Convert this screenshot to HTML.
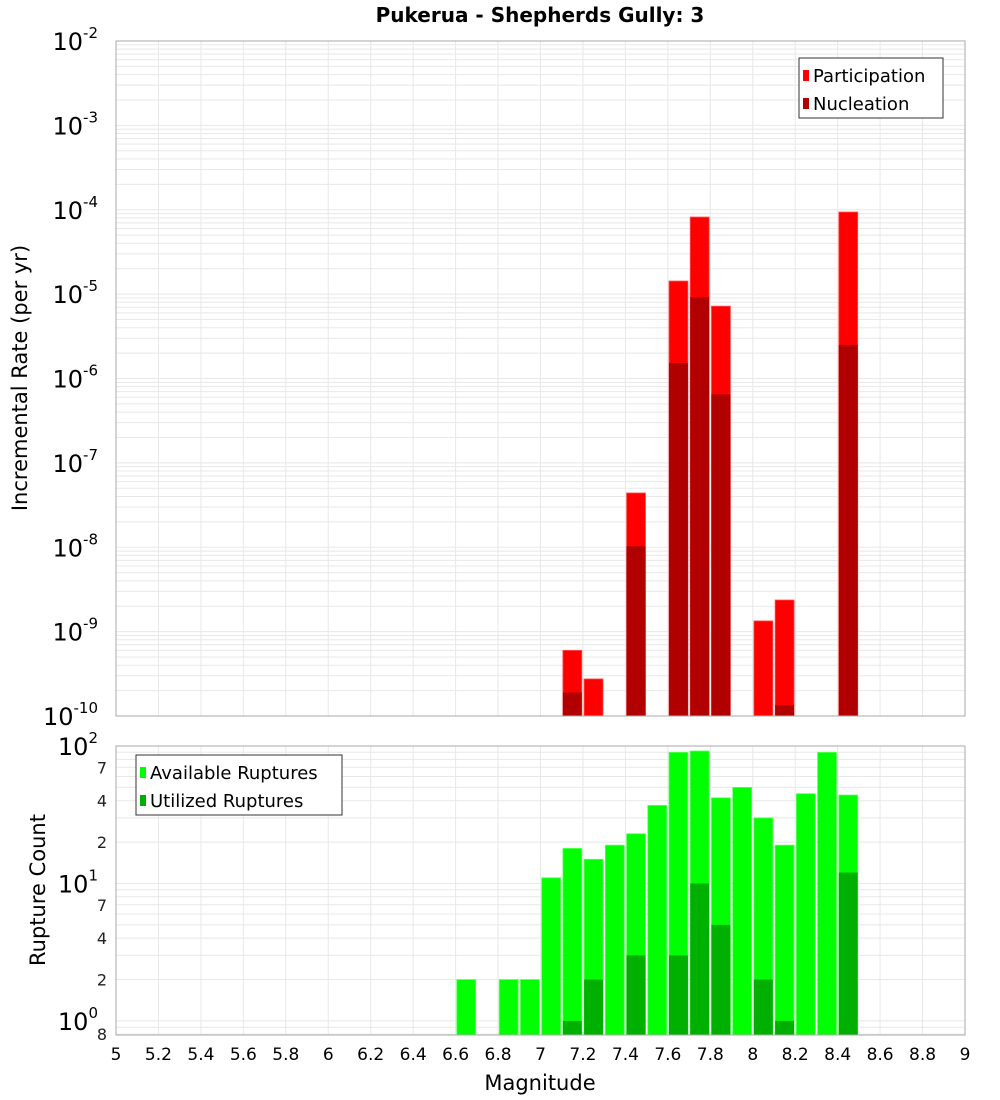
<!DOCTYPE html>
<html><head><meta charset="utf-8"><style>
html,body{margin:0;padding:0;background:#fff;}
svg{display:block;font-family:"DejaVu Sans","Liberation Sans",sans-serif;}
</style></head><body>
<svg id="chart" width="1000" height="1100" viewBox="0 0 1000 1100">
<text x="540" y="22" text-anchor="middle" font-size="20" font-weight="bold">Pukerua - Shepherds Gully: 3</text>
<g id="top"></g>
<g id="bot"></g>
<text x="540" y="1090" text-anchor="middle" font-size="21">Magnitude</text>
<text transform="translate(27,378) rotate(-90)" text-anchor="middle" font-size="21">Incremental Rate (per yr)</text>
<text transform="translate(45,890) rotate(-90)" text-anchor="middle" font-size="21">Rupture Count</text>
</svg>
<script>
const rateMags = [7.15, 7.25, 7.45, 7.65, 7.75, 7.85, 8.05, 8.15, 8.45];
const participation = [6e-10, 2.75e-10, 4.4e-8, 1.43e-5, 8.2e-5, 7.2e-6, 1.34e-9, 2.37e-9, 9.4e-5];
const nucleation = [1.9e-10, 0, 1.03e-8, 1.53e-6, 9.2e-6, 6.5e-7, 0, 1.35e-10, 2.5e-6];
const countMags = [6.65, 6.85, 6.95, 7.05, 7.15, 7.25, 7.35, 7.45, 7.55, 7.65, 7.75, 7.85, 7.95, 8.05, 8.15, 8.25, 8.35, 8.45];
const available = [2, 2, 2, 11, 18, 15, 19, 23, 37, 90, 92, 42, 50, 30, 19, 45, 90, 44];
const utilized = [0, 0, 0, 0, 1, 2, 0, 3, 0, 3, 10, 5, 0, 2, 1, 0, 0, 12];
const xTicks = ["5","5.2","5.4","5.6","5.8","6","6.2","6.4","6.6","6.8","7","7.2","7.4","7.6","7.8","8","8.2","8.4","8.6","8.8","9"];

const NS = "http://www.w3.org/2000/svg";
const svg = document.getElementById('chart');
const L = 116, R = 965;
const xS = m => L + (m - 5) / 4 * (R - L);
const T1 = 41, B1 = 716;
const y1 = v => T1 + (-2 - Math.log10(v)) / 8 * (B1 - T1);
const T2 = 746, B2 = 1035, ymin = Math.log10(0.79);
const y2 = v => T2 + (2 - Math.log10(v)) / (2 - ymin) * (B2 - T2);

function mk(tag, attrs, parent){ const e = document.createElementNS(NS, tag); for (const k in attrs) e.setAttribute(k, attrs[k]); (parent||svg).appendChild(e); return e; }

function gridPanel(g, T, B, lo, hi, yF){
  for (let i = 0; i < xTicks.length; i++){
    const x = xS(parseFloat(xTicks[i]));
    const ln = mk('line', {x1:x, x2:x, y1:T, y2:B, stroke:'#e8e8e8', 'stroke-width':1}, g);
    
    
  }
  for (let d = lo; d < hi; d++){
    for (let k = 1; k <= 9; k++){
      const v = k * Math.pow(10, d);
      const y = yF(v);
      if (y < T || y > B) continue;
      const ln = mk('line', {x1:L, x2:R, y1:y, y2:y, stroke:'#e8e8e8', 'stroke-width':1}, g);
      
      
    }
  }
}
function pow10Label(g, y, exp, name){
  const t = mk('text', {x:105, y:y+9, 'text-anchor':'end', 'font-size':24}, g);
  
  
  t.textContent = '10';
  const s = mk('tspan', {dy:-12, 'font-size':15}, t);
  s.textContent = String(exp);
  t.setAttribute('x', 98);
}

// top panel
const gt = document.getElementById('top');
gridPanel(gt, T1, B1, -10, -2, y1);
for (let e = -10; e <= -2; e++) pow10Label(gt, y1(Math.pow(10, e)), e, 'top-y-tick-label');
const bw = (R - L) / 40 - 2.3;
for (let i = 0; i < rateMags.length; i++){
  const x = xS(rateMags[i]) - bw/2;
  const yp = y1(participation[i]);
  const r = mk('rect', {x:x, y:yp, width:bw, height:B1-yp, fill:'#ff0000', stroke:'#ff5050', 'stroke-width':0.8}, gt);
  
  
  if (nucleation[i] > 0){
    const yn = y1(nucleation[i]);
    const n = mk('rect', {x:x, y:yn, width:bw, height:B1-yn, fill:'#b00000'}, gt);
    
    
  }
}
mk('rect', {x:L, y:T1, width:R-L, height:B1-T1, fill:'none', stroke:'#aaaaaa', 'stroke-width':1}, gt);

// bottom panel
const gb = document.getElementById('bot');
gridPanel(gb, T2, B2, -1, 2, y2);
pow10Label(gb, y2(100), 2, 'bottom-y-tick-label');
pow10Label(gb, y2(10), 1, 'bottom-y-tick-label');
pow10Label(gb, y2(1), 0, 'bottom-y-tick-label');
const minorTicks = [2, 4, 7, 20, 40, 70, 0.8];
for (const v of minorTicks){
  const t = mk('text', {x:107, y:y2(v)+6, 'text-anchor':'end', 'font-size':16, fill:'#222'}, gb);
  
  
  t.textContent = v < 1 ? '8' : String(v % 10 === 0 ? v/10 : v);
}
for (let i = 0; i < countMags.length; i++){
  const x = xS(countMags[i]) - bw/2;
  const ya = y2(available[i]);
  const r = mk('rect', {x:x, y:ya, width:bw, height:B2-ya, fill:'#00ff00', stroke:'#60ff60', 'stroke-width':0.8}, gb);
  
  
  if (utilized[i] > 0){
    const yu = y2(utilized[i]);
    const u = mk('rect', {x:x, y:yu, width:bw, height:B2-yu, fill:'#00b000'}, gb);
    
    
  }
}
mk('rect', {x:L, y:T2, width:R-L, height:B2-T2, fill:'none', stroke:'#aaaaaa', 'stroke-width':1}, gb);

// x tick labels
for (const t of xTicks){
  const tx = mk('text', {x:xS(parseFloat(t)), y:1060, 'text-anchor':'middle', 'font-size':17});
  
  
  tx.textContent = t;
}

// legends
function legend(x, y, w, items, name){
  const g = mk('g', {});
  
  
  mk('rect', {x:x, y:y, width:w, height:items.length*28+4, fill:'#fff', stroke:'#333', 'stroke-width':1}, g);
  items.forEach((it, i) => {
    const sw = mk('rect', {x:x+4, y:y+12+i*28, width:6, height:11, fill:it[1]}, g);
    
    
    const t = mk('text', {x:x+14, y:y+24+i*28, 'font-size':18}, g);
    
    
    t.textContent = it[0];
  });
}
legend(799, 58, 144, [['Participation','#ff0000'],['Nucleation','#b00000']], 'rate-legend');
legend(136, 755, 206, [['Available Ruptures','#00ff00'],['Utilized Ruptures','#00b000']], 'count-legend');
</script>
</body></html>
